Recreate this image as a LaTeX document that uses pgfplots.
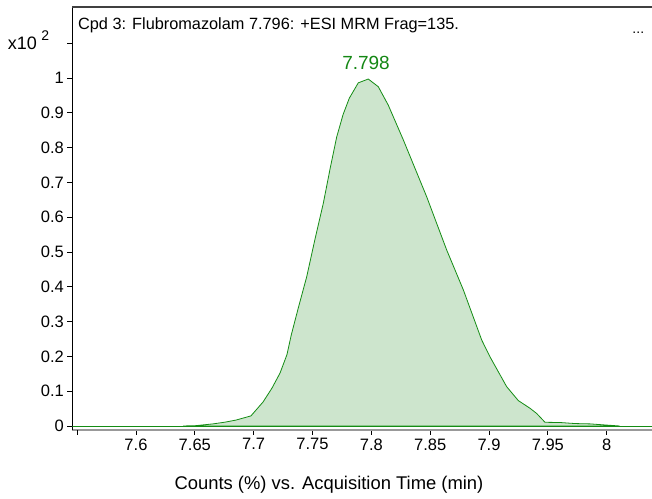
\documentclass[border=0pt]{standalone}
\usepackage{fontspec}
\setmainfont{Liberation Sans}
\usepackage{pgfplots}
\pgfplotsset{compat=1.18}
\definecolor{pkline}{RGB}{20,140,20}
\definecolor{pkfill}{RGB}{205,229,205}
\definecolor{lblgreen}{RGB}{20,135,20}
\begin{document}
\begin{tikzpicture}
\begin{axis}[
  scale only axis, width=579.7pt, height=423pt,
  xmin=7.5459, xmax=8.0385, ymin=-0.0115, ymax=1.204,
  axis x line*=bottom, axis y line*=left,
  x axis line style={-, draw=gray!80, line width=2pt},
  y axis line style={-, draw=black, line width=1pt},
  xtick={7.6,7.65,7.7,7.75,7.8,7.85,7.9,7.95,8},
  extra x ticks={7.55}, extra x tick labels={},
  ytick={0,0.1,0.2,0.3,0.4,0.5,0.6,0.7,0.8,0.9,1},
  extra y ticks={1.1}, extra y tick labels={},
  extra tick style={grid=none},
  tick align=outside, major tick length=5pt,
  tick style={black, line width=0.8pt},
  tick label style={font=\fontsize{16.5}{19}\selectfont},
  /pgf/number format/assume math mode=true,
  xlabel={Counts (\%) vs. Acquisition Time (min)},
  xlabel style={at={(axis description cs:0.4428,0)}, anchor=base, yshift=-60pt, font=\fontsize{18.4}{21}\selectfont},
  clip mode=individual,
]
\addplot[draw=pkline, line width=0.9pt] coordinates {(7.5459,0) (8.0385,0)};
\addplot[draw=pkline, fill=pkfill, line width=0.8pt] coordinates {
(7.640,0) (7.651,0.001) (7.6654,0.006) (7.6756,0.011) (7.685,0.017) (7.6977,0.029)
(7.708,0.069) (7.7156,0.109) (7.7224,0.152) (7.7283,0.205) (7.7320,0.262)
(7.7380,0.340) (7.7451,0.429) (7.7520,0.535) (7.7592,0.64) (7.7650,0.740) (7.7706,0.831) (7.7760,0.895) (7.7813,0.942) (7.7889,0.986)
(7.7974,0.997) (7.8059,0.975) (7.8144,0.922) (7.8272,0.822) (7.8470,0.659)
(7.8640,0.506) (7.8782,0.391) (7.8938,0.247) (7.9008,0.199) (7.9150,0.113)
(7.9249,0.073) (7.9348,0.051) (7.9405,0.036) (7.9476,0.0106) (7.9604,0.010)
(7.973,0.007) (7.986,0.006) (7.9984,0.003) (8.011,0)
} \closedcycle;
\draw[black!75, line width=1.5pt] (rel axis cs:0,1) -- (rel axis cs:1,1);
\node[anchor=base west, font=\fontsize{16.3}{19}\selectfont, inner sep=0pt] at (axis cs:7.5507,1.138) {Cpd 3: Flubromazolam 7.796: +ESI MRM Frag=135.};
\node[anchor=base east, font=\fontsize{14}{17}\selectfont, inner sep=0pt] at (axis cs:8.032,1.127) {...};
\node[anchor=base, font=\fontsize{19}{22}\selectfont, text=lblgreen, inner sep=0pt] at (axis cs:7.7955,1.023) {7.798};
\node[anchor=base east, font=\fontsize{18}{21}\selectfont, inner sep=0pt] at (axis cs:7.5159,1.0805) {x10};
\node[anchor=base west, font=\fontsize{14}{17}\selectfont, inner sep=0pt] at (axis cs:7.5195,1.107) {2};
\coordinate (BL) at (rel axis cs:0,0);
\coordinate (TR) at (rel axis cs:1,1);
\end{axis}
\pgfresetboundingbox
\path ([xshift=-72.3pt,yshift=-69pt]BL) rectangle ([yshift=7pt]TR);
\end{tikzpicture}
\end{document}
